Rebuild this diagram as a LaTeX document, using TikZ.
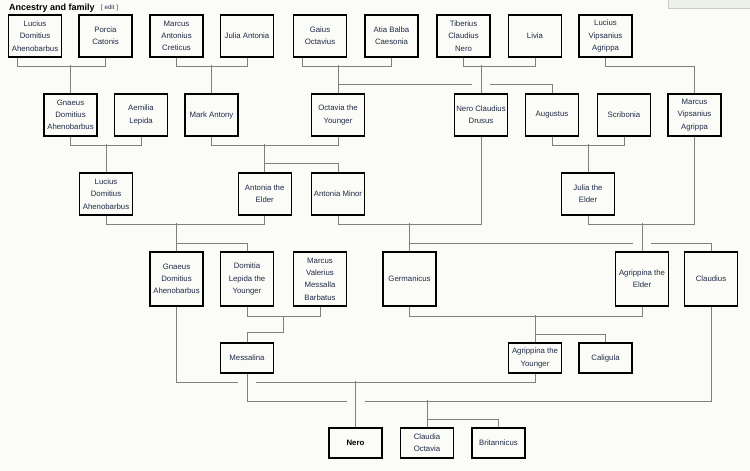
\documentclass[tikz,border=0pt]{standalone}
\usepackage{fontspec}
\setmainfont{Liberation Sans}
\usepackage{tikz}

\definecolor{pagebg}{RGB}{251,252,247}
\definecolor{linkgray}{RGB}{128,128,128}
\definecolor{namecol}{RGB}{32,42,72}
\definecolor{sidebg}{RGB}{236,241,234}
\definecolor{sideline}{RGB}{200,204,209}

\begin{document}
\begin{tikzpicture}[x=1pt, y=-1pt,
    person/.style={draw=black, line width=1.2pt, fill=pagebg, minimum width=53pt,
      minimum height=42pt, inner sep=0pt, align=center, text=namecol,
      font=\fontsize{7.8}{12.3}\selectfont},
    tall/.style={minimum height=54pt},
    low/.style={minimum height=30pt},
    link/.style={draw=linkgray, line width=0.8pt}]
    \useasboundingbox (0,0) rectangle (750,471);
    \fill[pagebg] (0,0) rectangle (750,471);
    \filldraw[fill=sidebg, draw=sideline, line width=0.6pt] (668,-2) rectangle (752,8);

    \node[anchor=west, inner sep=0pt, font=\bfseries\fontsize{9}{11}\selectfont] at (9,8) (title) {Ancestry and family};
    \node[anchor=west, inner sep=0pt, text=namecol, font=\fontsize{6.2}{8}\selectfont] at ([xshift=6pt]title.east) (edit) {[ edit ]};

    % generation 1
    \node[person] at (35,36) (lucius1) {Lucius\\Domitius\\Ahenobarbus};
    \node[person] at (105.5,36) (porcia) {Porcia\\Catonis};
    \node[person] at (176.5,36) (creticus) {Marcus\\Antonius\\Creticus};
    \node[person] at (247,36) (juliaA) {Julia Antonia};
    \node[person] at (320,36) (gaius) {Gaius\\Octavius};
    \node[person] at (391.5,36) (atia) {Atia Balba\\Caesonia};
    \node[person] at (463.5,36) (tiberius) {Tiberius\\Claudius\\Nero};
    \node[person] at (535,36) (livia) {Livia};
    \node[person] at (605.5,36) (luciusV) {Lucius\\Vipsanius\\Agrippa};

    % generation 2
    \node[person] at (70.5,115) (gnaeus1) {Gnaeus\\Domitius\\Ahenobarbus};
    \node[person] at (141,115) (aemilia) {Aemilia\\Lepida};
    \node[person] at (211.5,115) (antony) {Mark Antony};
    \node[person] at (338,115) (octavia) {Octavia the\\Younger};
    \node[person] at (481,115) (drusus) {Nero Claudius\\Drusus};
    \node[person] at (552,115) (augustus) {Augustus};
    \node[person] at (624,115) (scribonia) {Scribonia};
    \node[person] at (694.5,115) (agrippa) {Marcus\\Vipsanius\\Agrippa};

    % generation 3
    \node[person] at (106,194) (lucius2) {Lucius\\Domitius\\Ahenobarbus};
    \node[person] at (264.7,194) (antoniaE) {Antonia the\\Elder};
    \node[person] at (338,194) (antoniaM) {Antonia Minor};
    \node[person] at (588,194) (juliaE) {Julia the\\Elder};

    % generation 4
    \node[person, tall] at (176.5,279) (gnaeus2) {Gnaeus\\Domitius\\Ahenobarbus};
    \node[person, tall] at (247,279) (domitia) {Domitia\\Lepida the\\Younger};
    \node[person, tall] at (320,279) (messallaB) {Marcus\\Valerius\\Messalla\\Barbatus};
    \node[person, tall] at (409.5,279) (germanicus) {Germanicus};
    \node[person, tall] at (642,279) (agrippinaE) {Agrippina the\\Elder};
    \node[person, tall] at (711,279) (claudius) {Claudius};

    \node[person, low] at (247,358) (messalina) {Messalina};
    \node[person, low] at (535,358) (agrippinaY) {Agrippina the\\Younger};
    \node[person, low] at (605.5,358) (caligula) {Caligula};

    % generation 5
    \node[person, low, text=black, font=\bfseries\fontsize{7.8}{12.3}\selectfont] at (355.5,443) (nero) {Nero};
    \node[person, low] at (427,443) (claudia) {Claudia\\Octavia};
    \node[person, low] at (498.5,443) (britannicus) {Britannicus};

    % couples and children, top row
    \draw[link] ([xshift=-18pt]lucius1.south) -- ++(0,9) -| (porcia.south);
    \draw[link] (gnaeus1.north) -- ++(0,-28);
    \draw[link] (creticus.south) -- ++(0,9) -| (juliaA.south);
    \draw[link] (antony.north) -- ++(0,-28);
    \draw[link] ([xshift=-18pt]gaius.south) -- ++(0,9) -| (atia.south);
    \draw[link] (octavia.north) -- ++(0,-28);
    \draw[link] (octavia.north |- 0,84) -- ([xshift=-9pt]drusus.north |- 0,84);
    \draw[link] ([xshift=9pt]drusus.north |- 0,84) -| (augustus.north);
    \draw[link] (tiberius.south) -- ++(0,9) -| (livia.south);
    \draw[link] (drusus.north) -- ++(0,-28);
    \draw[link] (luciusV.south) -- ++(0,9) -| (agrippa.north);

    % second row
    \draw[link] (gnaeus1.south) -- ++(0,9) -| (aemilia.south);
    \draw[link] (lucius2.north) -- ++(0,-28);
    \draw[link] (antony.south) -- ++(0,9) -| (octavia.south);
    \draw[link] (antoniaE.north) -- ++(0,-28);
    \draw[link] (antoniaE.north |- 0,163) -| (antoniaM.north);
    \draw[link] (augustus.south) -- ++(0,9) -| (scribonia.south);
    \draw[link] (juliaE.north) -- ++(0,-28);

    % third row
    \draw[link] (lucius2.south) -- ++(0,9) -| (antoniaE.south);
    \draw[link] (gnaeus2.north) -- ++(0,-28);
    \draw[link] (gnaeus2.north |- 0,243) -| (domitia.north);
    \draw[link] (drusus.south) |- (antoniaM.south |- 0,224) -- (antoniaM.south);
    \draw[link] (germanicus.north) -- ++(0,-28);
    \draw[link] (germanicus.north |- 0,243) -- ([xshift=-9pt]agrippinaE.north |- 0,243);
    \draw[link] ([xshift=9pt]agrippinaE.north |- 0,243) -| (claudius.north);
    \draw[link] (juliaE.south) -- ++(0,9) -| (agrippa.south);
    \draw[link] (agrippinaE.north) -- ++(0,-28);

    % fourth row
    \draw[link] (domitia.south) -- ++(0,10) -| (messallaB.south);
    \draw[link] (messalina.north) -- ++(0,-10) -| ([xshift=36pt]domitia.south |- 0,316);
    \draw[link] (germanicus.south) -- ++(0,10) -| (agrippinaE.south);
    \draw[link] (agrippinaY.north) -- ++(0,-27);
    \draw[link] (agrippinaY.north |- 0,334) -| (caligula.north);

    % Nero and his half-siblings
    \draw[link] (gnaeus2.south) |- ([xshift=-9pt]messalina.south |- 0,382);
    \draw[link] ([xshift=9pt]messalina.south |- 0,382) -| (agrippinaY.south);
    \draw[link] (nero.north) -- ++(0,-46);
    \draw[link] (messalina.south) |- ([xshift=-9pt]nero.north |- 0,401);
    \draw[link] ([xshift=9pt]nero.north |- 0,401) -| (claudius.south);
    \draw[link] (claudia.north) -- ++(0,-27);
    \draw[link] (claudia.north |- 0,419) -| (britannicus.north);
\end{tikzpicture}
\end{document}
